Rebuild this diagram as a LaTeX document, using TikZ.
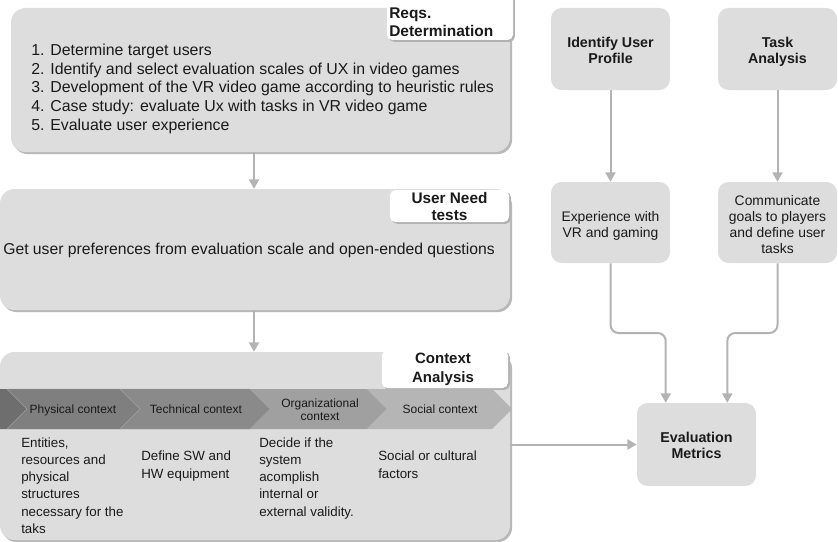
\documentclass[tikz,border=0pt]{standalone}
\usepackage{fontspec}
\setmainfont{Liberation Sans}
\usetikzlibrary{arrows.meta,fit,shadows,calc}
\definecolor{boxgray}{HTML}{DDDDDD}
\definecolor{conngray}{HTML}{B3B3B3}
\definecolor{chevA}{HTML}{6E6E6E}
\definecolor{chevB}{HTML}{7F7F7F}
\definecolor{chevC}{HTML}{8A8A8A}
\definecolor{chevD}{HTML}{A0A0A0}
\definecolor{chevE}{HTML}{B5B5B5}
\definecolor{txtdark}{HTML}{1A1A1A}
\begin{document}
\begin{tikzpicture}[x=0.75pt,y=-0.75pt,
  bigbox/.style={fill=boxgray, rounded corners=11pt, inner sep=0pt,
    drop shadow={shadow xshift=1.6pt, shadow yshift=-1.6pt, fill=black!28, opacity=1}},
  labelbox/.style={fill=white, rounded corners=4pt, inner sep=0pt,
    drop shadow={shadow xshift=1.4pt, shadow yshift=-1.4pt, fill=black!30, opacity=1}},
  smallbox/.style={fill=boxgray, rounded corners=8pt, inner sep=0pt},
  txt/.style={inner sep=0pt, text=txtdark},
  listtxt/.style={txt, align=left, font=\fontsize{11.9pt}{14.06pt}\selectfont},
  labtxt/.style={txt, font=\fontsize{11.6pt}{13.5pt}\selectfont\bfseries},
  chevtxt/.style={txt, align=center, font=\fontsize{9pt}{9.75pt}\selectfont},
  bodytxt/.style={txt, align=left, font=\fontsize{10pt}{12.9pt}\selectfont},
  rbold/.style={txt, align=center, font=\fontsize{10.7pt}{12pt}\selectfont\bfseries},
  rreg/.style={txt, align=center, font=\fontsize{10.4pt}{12.2pt}\selectfont},
  conn/.style={draw=conngray, line width=1.5pt, -{Triangle[length=7pt,width=7.5pt]}}
]
\useasboundingbox (0,0) rectangle (838,542);

% ---------- left column ----------
\node[bigbox, fit={(11,8)(510,152)}] (reqs) {};
\node[labelbox, fit={(387,-8)(513,40)}] (reqlab) {};
\node[labtxt, align=left, anchor=north west] (reqlabt) at (389,7.2) {Reqs.\\Determination};
\node[listtxt, anchor=north west] (reqlist) at (31,43.6) {1. Determine target users\\2. Identify and select evaluation scales of UX in video games\\3. Development of the VR video game according to heuristic rules\\4. Case study: evaluate Ux with tasks in VR video game\\5. Evaluate user experience};

\node[bigbox, fit={(0,189)(510,310)}] (needs) {};
\node[labelbox, fit={(390,190)(509,222)}] (needlab) {};
\node[labtxt, align=center, anchor=north, font=\fontsize{11.5pt}{12.75pt}\selectfont\bfseries] (needlabt) at (449.5,192) {User Need\\tests};
\node[listtxt, anchor=base west, font=\fontsize{11.8pt}{14pt}\selectfont] (needtxt) at (3,254) {Get user preferences from evaluation scale and open-ended questions};

\node[bigbox, fit={(0,352)(510,540)}] (ctx) {};
\node[labelbox, fit={(382,350)(508,388)}] (ctxlab) {};
\node[labtxt, align=center, anchor=north, font=\fontsize{11.25pt}{14.25pt}\selectfont\bfseries] (ctxlabt) at (443,353) {Context\\Analysis};

% chevron band
\fill[chevA] (0,389) -- (7,389) -- (27,409) -- (7,429) -- (0,429) -- cycle;
\fill[chevB, draw=black!38, line width=0.3pt] (7,389) -- (120,389) -- (140,409) -- (120,429) -- (7,429) -- (27,409) -- cycle;
\fill[chevC, draw=black!38, line width=0.3pt] (120,389) -- (250,389) -- (270,409) -- (250,429) -- (120,429) -- (140,409) -- cycle;
\fill[chevD] (250,389) -- (367,389) -- (387,409) -- (367,429) -- (250,429) -- (270,409) -- cycle;
\fill[chevE] (367,389) -- (492,389) -- (512,409) -- (492,429) -- (367,429) -- (387,409) -- cycle;
\node[chevtxt, anchor=base] (ch1) at (73,413) {Physical context};
\node[chevtxt, anchor=base] (ch2) at (196,413) {Technical context};
\node[chevtxt, anchor=north] (ch3) at (320,398.4) {Organizational\\context};
\node[chevtxt, anchor=base] (ch4) at (440,413) {Social context};

\node[bodytxt, anchor=north west] (b1) at (21,437.3) {Entities,\\resources and\\physical\\structures\\necessary for the\\taks};
\node[bodytxt, anchor=north west] (b2) at (141,451) {Define SW and\\HW equipment};
\node[bodytxt, anchor=north west] (b3) at (259,437.3) {Decide if the\\system\\acomplish\\internal or\\external validity.};
\node[bodytxt, anchor=north west] (b4) at (378,451) {Social or cultural\\factors};

% ---------- right column ----------
\node[smallbox, fit={(551,8)(670,90)}] (iup) {};
\node[rbold, anchor=north] (iupt) at (610.5,37) {Identify User\\Profile};
\node[smallbox, fit={(718,8)(837,90)}] (task) {};
\node[rbold, anchor=north] (taskt) at (777.5,37) {Task\\Analysis};
\node[smallbox, fit={(551,182)(670,263)}] (exp) {};
\node[rreg, anchor=north] (expt) at (610.5,211) {Experience with\\VR and gaming};
\node[smallbox, fit={(718,182)(837,263)}] (com) {};
\node[rreg, anchor=north, font=\fontsize{10.4pt}{12pt}\selectfont] (comt) at (777.5,195) {Communicate\\goals to players\\and define user\\tasks};
\node[smallbox, fit={(637,403)(756,486)}] (eval) {};
\node[rbold, anchor=north] (evalt) at (696.5,432) {Evaluation\\Metrics};

% ---------- connectors ----------
\coordinate (ax) at (254,0);
\coordinate (m1) at (640,333);
\coordinate (m2) at (750,333);
\draw[conn] (reqs.south -| ax) -- (needs.north -| ax);
\draw[conn] (needs.south -| ax) -- (ctx.north -| ax);
\draw[conn] (iup) -- (exp);
\draw[conn] (task) -- (com);
\draw[conn, rounded corners=6pt] (exp.south) |- (m1) -| ([xshift=21.75pt]eval.north west);
\draw[conn, rounded corners=6pt] (com.south) |- (m2) -| ([xshift=-21.75pt]eval.north east);
\draw[conn] (ctx.east |- eval.west) -- (eval.west);
\end{tikzpicture}
\end{document}
